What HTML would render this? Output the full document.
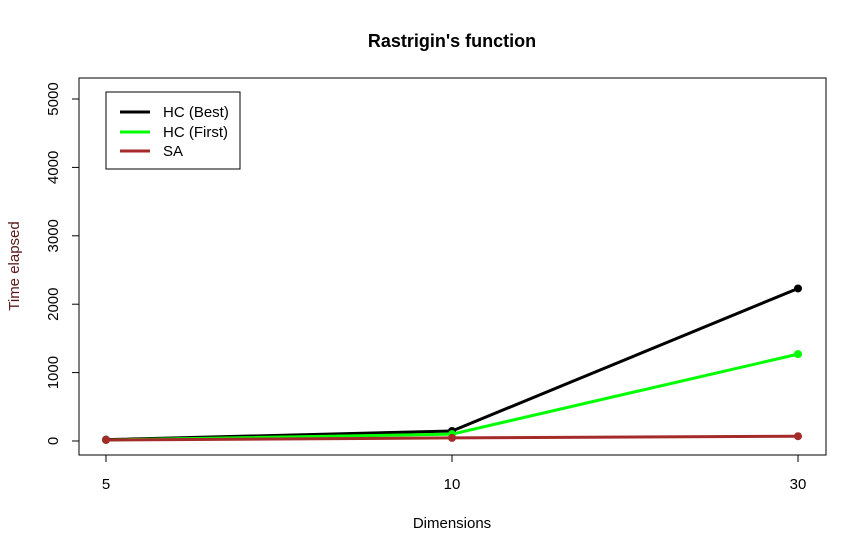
<!DOCTYPE html>
<html><head><meta charset="utf-8"><style>body{margin:0;background:#fff}svg{font-family:"Liberation Sans",Arial,sans-serif}</style></head>
<body>
<svg width="866" height="553">
<rect width="866" height="553" fill="#fff"/>
<text x="452" y="47" text-anchor="middle" font-size="18" font-weight="bold">Rastrigin's function</text>
<rect x="79" y="78" width="747" height="377" fill="none" stroke="#000"/>
<text x="452" y="528" text-anchor="middle" font-size="15">Dimensions</text>
<text transform="translate(19,266) rotate(-90)" text-anchor="middle" font-size="15" fill="#5a1a1a">Time elapsed</text>
<g id="axes"></g><g id="series"></g>
<g>
<rect x="106" y="92" width="134" height="77" fill="#fff" stroke="#000"/>
<line x1="120" y1="112" x2="150" y2="112" stroke="#000" stroke-width="3"/>
<text x="163" y="117" font-size="15">HC (Best)</text>
<line x1="120" y1="132" x2="150" y2="132" stroke="#00ff00" stroke-width="3"/>
<text x="163" y="137" font-size="15">HC (First)</text>
<line x1="120" y1="151" x2="150" y2="151" stroke="#a52a2a" stroke-width="3"/>
<text x="163" y="156" font-size="15">SA</text>
</g>
</svg>
<script>
const categories=["5","10","30"];
const hcBest=[20,146,2230];
const hcFirst=[15,100,1270];
const sa=[15,45,70];
const yTicks=[0,1000,2000,3000,4000,5000];
const NS="http://www.w3.org/2000/svg";
function xs(i){return 106+i*346;}
function ys(v){return 441-v*0.0684;}
function mk(t,a,p){const e=document.createElementNS(NS,t);for(const k in a)e.setAttribute(k,a[k]);p.appendChild(e);return e;}
const ax=document.getElementById('axes');
mk('line',{x1:xs(0),x2:xs(categories.length-1),y1:455,y2:455,stroke:'#000'},ax);
categories.forEach((c,i)=>{
 const l=mk('line',{x1:xs(i),x2:xs(i),y1:455,y2:462,stroke:'#000'},ax);
 
 
 const t=mk('text',{x:xs(i),y:489,'text-anchor':'middle','font-size':15},ax);t.textContent=c;
 
 
});
mk('line',{x1:79,x2:79,y1:ys(0),y2:ys(5000),stroke:'#000'},ax);
yTicks.forEach(v=>{
 const l=mk('line',{x1:72,x2:79,y1:ys(v),y2:ys(v),stroke:'#000'},ax);
 
 
 const t=mk('text',{transform:`translate(58,${ys(v)}) rotate(-90)`,'text-anchor':'middle','font-size':15},ax);t.textContent=v;
 
 
});
const sg=document.getElementById('series');
[[hcBest,'#000','hc-best'],[hcFirst,'#00ff00','hc-first'],[sa,'#a52a2a','sa']].forEach(([d,c,n])=>{
 const p=mk('polyline',{points:d.map((v,i)=>xs(i)+','+ys(v)).join(' '),fill:'none',stroke:c,'stroke-width':3},sg);
 
 
 d.forEach((v,i)=>{
  const pt=mk('circle',{cx:xs(i),cy:ys(v),r:4,fill:c},sg);
  
  
 });
});
</script>
</body></html>
